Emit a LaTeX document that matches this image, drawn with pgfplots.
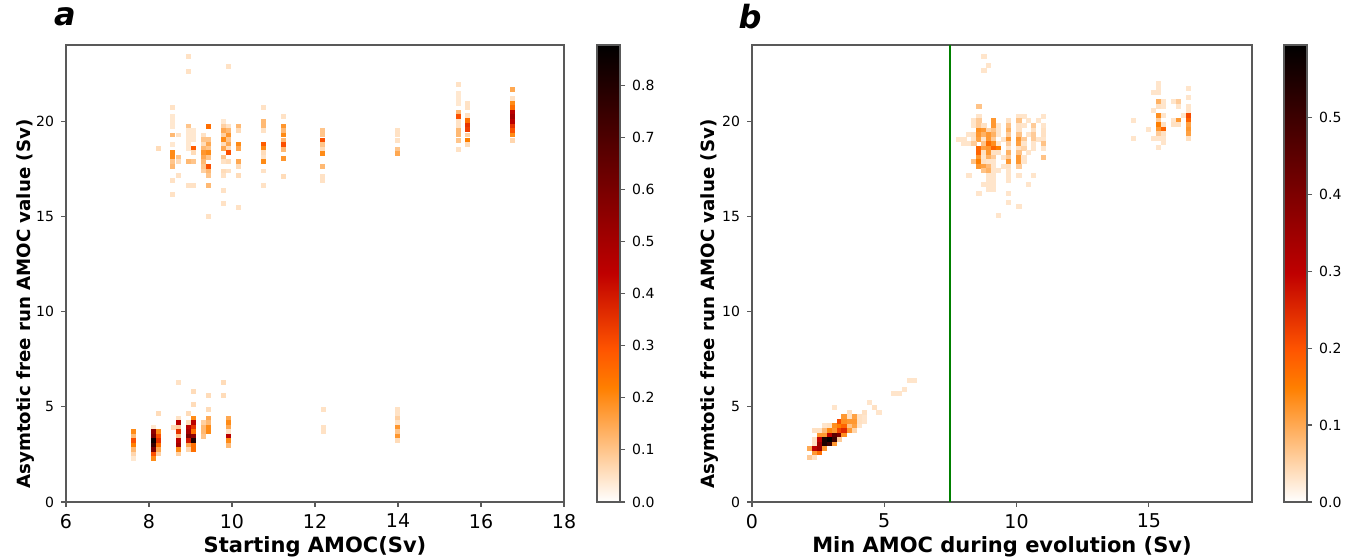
\documentclass[border=0pt]{standalone}
\usepackage{fontspec}
\setmainfont{DejaVu Sans}
\usepackage{pgfplots}
\pgfplotsset{compat=1.18}

% one histogram bin, drawn as a filled box
\pgfdeclareplotmark{cell}{%
  \pgfpathrectangle{\pgfqpoint{-1.3pt}{-1.22pt}}{\pgfqpoint{2.6pt}{2.44pt}}%
  \pgfusepath{fill}}

\pgfplotsset{
  colormap={heatr}{rgb(0cm)=(1,1,1); rgb(3cm)=(1,0.5,0); rgb(4cm)=(1,0.333,0); rgb(6cm)=(0.75,0,0); rgb(12cm)=(0,0,0)},
  /pgf/number format/assume math mode=true,
  panel/.style={
    scale only axis, height=228.5pt,
    ymin=0, ymax=24, ytick={0,5,10,15,20},
    tick align=outside, xtick pos=left, ytick pos=left,
    major tick length=2.5pt,
    axis line style={black!65, line width=0.6pt},
    tick style={black!65, line width=0.6pt},
    yticklabel style={font=\fontsize{7}{8}\selectfont},
    xticklabel style={font=\fontsize{9.5}{11}\selectfont},
    xlabel style={font=\fontsize{10.5}{12}\selectfont\bfseries},
    ylabel style={font=\fontsize{9.1}{11}\selectfont\bfseries},
    colormap name=heatr,
    colorbar,
  },
  cb/.style={
    scale only axis, width=11.5pt,
    at={(parent axis.north east)}, anchor=north west,
    axis line style={black!65, line width=0.6pt},
    tick style={black!65, line width=0.6pt},
    tick align=outside, major tick length=2.5pt,
    ytick pos=right, yticklabel pos=right,
    yticklabel style={font=\fontsize{7}{8}\selectfont,
      /pgf/number format/.cd, fixed, fixed zerofill, precision=1},
  },
  bins/.style={scatter, only marks, mark=cell, point meta=explicit,
    scatter/use mapped color={draw=none, fill=mapped color}},
}

\begin{document}
\begin{tikzpicture}
\path[use as bounding box] (0,0) rectangle (673.5pt,280pt);

% ---------------- (a) ----------------
\begin{axis}[panel,
  at={(33pt,29pt)}, anchor=south west, width=249pt,
  xmin=6, xmax=18, xtick={6,8,...,18},
  point meta min=0, point meta max=0.877,
  colorbar style={cb, xshift=8pt, ytick={0,0.1,...,0.8}},
  xlabel={Starting AMOC(Sv)},
  ylabel={Asymtotic free run AMOC value (Sv)},
  xlabel style={at={(axis description cs:0.5,-0.098)}, anchor=center},
  ylabel style={at={(axis description cs:-0.082,0.433)}, anchor=center},
]
\addplot[bins] table[meta=v] {
x y v
7.62 3.69 0.2
7.62 3.46 0.12
7.62 3.22 0.3
7.62 2.98 0.22
7.62 2.75 0.12
7.62 2.52 0.07
7.62 2.29 0.04
8.10 3.93 0.04
8.10 3.69 0.55
8.10 3.46 0.6
8.10 3.22 0.85
8.10 2.98 0.75
8.10 2.75 0.6
8.10 2.52 0.3
8.10 2.29 0.2
8.22 4.64 0.06
8.22 3.69 0.2
8.22 3.46 0.3
8.22 3.22 0.35
8.22 2.98 0.25
8.22 2.75 0.15
8.22 2.52 0.08
8.59 3.93 0.06
8.71 6.29 0.05
8.71 4.40 0.05
8.71 4.17 0.45
8.71 3.93 0.08
8.71 3.69 0.35
8.71 3.46 0.1
8.71 3.22 0.45
8.71 2.98 0.5
8.71 2.75 0.2
8.71 2.52 0.08
8.95 4.64 0.06
8.95 4.17 0.06
8.95 3.93 0.45
8.95 3.69 0.5
8.95 3.46 0.6
8.95 3.22 0.4
8.95 2.98 0.15
8.95 2.75 0.07
9.07 5.82 0.06
9.07 5.11 0.06
9.07 4.40 0.2
9.07 4.17 0.45
9.07 3.93 0.35
9.07 3.69 0.25
9.07 3.46 0.55
9.07 3.22 0.8
9.07 2.98 0.25
9.07 2.75 0.25
9.31 4.17 0.08
9.31 3.93 0.12
9.31 3.69 0.12
9.31 3.46 0.1
9.43 5.58 0.06
9.43 4.87 0.06
9.43 4.40 0.15
9.43 4.17 0.12
9.43 3.93 0.2
9.43 3.69 0.2
9.79 6.29 0.06
9.79 5.58 0.06
9.91 4.40 0.15
9.91 4.17 0.2
9.91 3.93 0.15
9.91 3.69 0.05
9.91 3.46 0.45
9.91 3.22 0.2
9.91 2.98 0.12
12.2 4.87 0.05
12.2 3.93 0.05
12.2 3.69 0.05
13.99 4.87 0.05
13.99 4.64 0.05
13.99 4.40 0.08
13.99 4.17 0.05
13.99 3.93 0.18
13.99 3.69 0.1
13.99 3.46 0.18
13.99 3.22 0.06
8.22 18.57 0.06
8.57 20.70 0.05
8.57 20.23 0.04
8.57 19.96 0.04
8.57 19.74 0.04
8.57 19.27 0.12
8.57 18.79 0.04
8.57 18.34 0.2
8.57 18.09 0.2
8.57 17.86 0.1
8.57 17.60 0.12
8.57 16.87 0.05
8.57 16.15 0.05
8.71 19.27 0.05
8.71 18.09 0.1
8.71 17.86 0.06
8.71 17.13 0.05
8.95 23.38 0.05
8.95 22.62 0.05
8.95 19.74 0.1
8.95 19.53 0.04
8.95 19.27 0.04
8.95 19.04 0.04
8.95 18.79 0.04
8.95 18.57 0.04
8.95 17.86 0.12
8.95 16.64 0.05
9.07 19.53 0.04
9.07 19.27 0.04
9.07 19.04 0.04
9.07 18.57 0.28
9.07 18.34 0.06
9.07 17.86 0.1
9.07 16.64 0.05
9.31 19.27 0.05
9.31 19.04 0.1
9.31 18.79 0.06
9.31 18.57 0.12
9.31 18.34 0.18
9.31 18.09 0.15
9.31 17.86 0.12
9.31 17.60 0.1
9.31 17.38 0.08
9.43 19.74 0.25
9.43 19.04 0.1
9.43 18.79 0.15
9.43 18.57 0.1
9.43 18.34 0.2
9.43 18.09 0.1
9.43 17.60 0.3
9.43 17.38 0.12
9.43 17.13 0.1
9.43 16.64 0.12
9.43 14.98 0.05
9.79 19.96 0.04
9.79 19.74 0.08
9.79 19.53 0.15
9.79 19.27 0.08
9.79 19.04 0.2
9.79 18.79 0.06
9.79 18.57 0.15
9.79 18.09 0.1
9.79 17.86 0.05
9.79 17.38 0.06
9.79 17.13 0.05
9.79 16.38 0.05
9.79 15.68 0.05
9.91 22.89 0.05
9.91 19.74 0.05
9.91 19.53 0.12
9.91 19.27 0.18
9.91 19.04 0.1
9.91 18.79 0.15
9.91 18.57 0.06
9.91 18.34 0.3
9.91 17.86 0.06
9.91 17.38 0.05
10.15 19.74 0.12
10.15 19.53 0.06
10.15 18.79 0.2
10.15 18.57 0.15
10.15 17.86 0.15
10.15 17.60 0.06
10.15 17.13 0.06
10.15 15.45 0.05
10.75 20.70 0.05
10.75 19.96 0.12
10.75 19.74 0.12
10.75 19.53 0.05
10.75 18.79 0.28
10.75 18.57 0.2
10.75 18.34 0.06
10.75 18.09 0.05
10.75 17.86 0.2
10.75 17.38 0.05
10.75 16.64 0.05
11.24 20.23 0.05
11.24 19.74 0.18
11.24 19.49 0.12
11.24 19.27 0.2
11.24 19.00 0.12
11.24 18.78 0.3
11.24 18.53 0.12
11.24 18.04 0.18
11.24 17.11 0.06
12.19 19.49 0.1
12.19 19.27 0.1
12.19 19.00 0.3
12.19 18.78 0.1
12.19 18.53 0.06
12.19 18.30 0.2
12.19 17.60 0.12
12.19 17.11 0.05
12.19 16.87 0.05
13.99 19.49 0.05
13.99 19.27 0.05
13.99 19.00 0.05
13.99 18.53 0.1
13.99 18.30 0.15
15.45 21.94 0.05
15.45 21.45 0.04
15.45 21.20 0.04
15.45 20.95 0.04
15.45 20.45 0.12
15.45 20.23 0.3
15.45 19.97 0.05
15.45 19.74 0.05
15.45 19.49 0.12
15.45 19.27 0.12
15.45 19.00 0.1
15.45 18.53 0.05
15.68 20.93 0.05
15.68 20.70 0.05
15.68 20.30 0.05
15.68 20.05 0.25
15.68 19.80 0.35
15.68 19.55 0.33
15.68 19.27 0.08
15.68 19.00 0.22
15.68 18.78 0.06
16.76 21.66 0.15
16.76 21.19 0.05
16.76 20.93 0.2
16.76 20.70 0.25
16.76 20.45 0.45
16.76 20.23 0.5
16.76 19.97 0.45
16.76 19.74 0.35
16.76 19.49 0.3
16.76 19.27 0.2
16.76 19.00 0.07
};
\end{axis}

% ---------------- (b) ----------------
\begin{axis}[panel,
  at={(376pt,29pt)}, anchor=south west, width=250pt,
  xmin=0, xmax=18.9, xtick={0,5,10,15},
  point meta min=0, point meta max=0.594,
  colorbar style={cb, xshift=7.5pt, ytick={0,0.1,...,0.5}},
  xlabel={Min AMOC during evolution (Sv)},
  ylabel={Asymtotic free run AMOC value (Sv)},
  xlabel style={at={(axis description cs:0.5,-0.098)}, anchor=center},
  ylabel style={at={(axis description cs:-0.084,0.433)}, anchor=center},
]
\draw[color={rgb,255:red,0;green,128;blue,0}, line width=1pt] (axis cs:7.5,0) -- (axis cs:7.5,24);
\addplot[bins] table[meta=v] {
x y v
2.16 2.35 0.06
2.35 2.35 0.035
2.35 2.59 0.12
2.54 2.59 0.17
2.16 2.82 0.1
2.35 2.82 0.3
2.54 2.82 0.35
2.73 2.82 0.12
2.35 3.06 0.035
2.54 3.06 0.35
2.73 3.06 0.55
2.92 3.06 0.5
3.11 3.06 0.12
2.35 3.29 0.035
2.54 3.29 0.3
2.73 3.29 0.55
2.92 3.29 0.59
3.11 3.29 0.5
3.30 3.29 0.06
2.54 3.53 0.12
2.73 3.53 0.12
2.92 3.53 0.3
3.11 3.53 0.45
3.30 3.53 0.4
3.48 3.53 0.13
2.35 3.76 0.035
2.54 3.76 0.035
2.73 3.76 0.08
2.92 3.76 0.14
3.11 3.76 0.12
3.30 3.76 0.22
3.48 3.76 0.25
3.67 3.76 0.12
3.86 3.76 0.05
2.73 4.01 0.03
2.92 4.01 0.035
3.11 4.01 0.13
3.30 4.01 0.15
3.48 4.01 0.18
3.67 4.01 0.07
3.86 4.01 0.11
4.05 4.01 0.03
3.30 4.24 0.21
3.48 4.24 0.13
3.67 4.24 0.12
3.86 4.24 0.12
4.05 4.24 0.035
4.24 4.24 0.03
3.48 4.48 0.12
3.67 4.48 0.035
3.86 4.48 0.11
4.05 4.48 0.035
4.24 4.48 0.03
3.67 4.71 0.035
4.24 4.71 0.035
4.80 4.71 0.03
3.11 4.95 0.03
4.62 4.95 0.035
4.43 5.21 0.03
5.37 5.70 0.03
5.56 5.70 0.03
5.75 5.92 0.03
5.94 6.40 0.03
6.13 6.40 0.03
8.77 23.41 0.03
8.95 22.94 0.03
8.77 22.68 0.03
8.58 20.75 0.07
8.58 20.26 0.03
10.09 20.26 0.03
10.28 20.26 0.03
11.03 20.26 0.03
8.39 20.02 0.03
8.58 20.02 0.06
9.14 20.02 0.12
9.71 20.02 0.035
10.09 20.02 0.07
10.46 20.02 0.03
10.84 20.02 0.03
8.39 19.77 0.03
8.58 19.77 0.06
8.77 19.77 0.035
9.14 19.77 0.12
9.33 19.77 0.03
9.71 19.77 0.07
10.09 19.77 0.035
10.28 19.77 0.03
10.65 19.77 0.06
11.03 19.77 0.03
8.58 19.53 0.13
8.77 19.53 0.12
8.95 19.53 0.05
9.14 19.53 0.07
9.33 19.53 0.03
9.71 19.53 0.09
10.09 19.53 0.035
10.65 19.53 0.035
11.03 19.53 0.035
8.20 19.30 0.03
8.39 19.30 0.035
8.58 19.30 0.12
8.77 19.30 0.09
8.95 19.30 0.12
9.14 19.30 0.09
9.33 19.30 0.03
9.71 19.30 0.06
10.09 19.30 0.07
10.46 19.30 0.03
10.65 19.30 0.06
11.03 19.30 0.035
7.82 19.05 0.03
8.01 19.05 0.03
8.39 19.05 0.03
8.58 19.05 0.11
8.77 19.05 0.03
8.95 19.05 0.12
9.14 19.05 0.06
9.52 19.05 0.03
9.71 19.05 0.12
10.09 19.05 0.12
10.28 19.05 0.06
10.65 19.05 0.06
10.84 19.05 0.03
11.03 19.05 0.03
8.01 18.81 0.03
8.20 18.81 0.03
8.39 18.81 0.06
8.77 18.81 0.07
8.95 18.81 0.17
9.14 18.81 0.13
9.33 18.81 0.03
9.71 18.81 0.06
10.09 18.81 0.11
10.28 18.81 0.03
10.65 18.81 0.03
11.03 18.81 0.07
8.58 18.58 0.18
8.77 18.58 0.11
8.95 18.58 0.12
9.14 18.58 0.18
9.33 18.58 0.15
9.71 18.58 0.03
10.09 18.58 0.035
10.28 18.58 0.05
10.65 18.58 0.03
11.03 18.58 0.03
8.58 18.34 0.18
8.77 18.34 0.035
8.95 18.34 0.12
9.14 18.34 0.035
9.33 18.34 0.035
9.71 18.34 0.09
10.09 18.34 0.07
10.46 18.34 0.03
8.58 18.11 0.12
8.77 18.11 0.03
8.95 18.11 0.09
9.14 18.11 0.06
9.52 18.11 0.03
9.71 18.11 0.06
10.09 18.11 0.12
10.28 18.11 0.03
11.03 18.11 0.07
8.39 17.86 0.07
8.58 17.86 0.15
8.77 17.86 0.035
8.95 17.86 0.03
9.14 17.86 0.03
9.71 17.86 0.12
10.09 17.86 0.12
10.28 17.86 0.03
8.58 17.62 0.12
8.77 17.62 0.11
8.95 17.62 0.08
9.14 17.62 0.03
9.52 17.62 0.03
9.71 17.62 0.035
10.09 17.62 0.06
8.77 17.39 0.07
8.95 17.39 0.09
9.14 17.39 0.03
9.33 17.39 0.03
9.71 17.39 0.03
8.20 17.15 0.03
8.95 17.15 0.03
9.14 17.15 0.03
9.71 17.15 0.03
10.09 17.15 0.03
10.65 17.15 0.03
8.95 16.90 0.03
9.14 16.90 0.03
9.71 16.90 0.03
8.77 16.68 0.03
8.95 16.68 0.03
9.14 16.68 0.03
10.46 16.68 0.03
8.95 16.43 0.03
9.14 16.43 0.03
8.58 16.20 0.03
9.71 16.20 0.03
9.71 15.73 0.03
10.09 15.50 0.03
9.33 15.03 0.03
15.36 21.98 0.03
15.36 21.71 0.03
15.36 21.49 0.03
15.36 21.01 0.09
15.36 20.79 0.035
15.36 20.31 0.13
15.36 20.05 0.06
15.36 19.83 0.15
15.36 19.58 0.12
15.36 19.35 0.06
15.36 19.09 0.03
15.36 18.62 0.03
15.17 21.49 0.03
15.17 20.54 0.03
15.17 19.09 0.03
15.55 21.01 0.03
15.55 20.79 0.03
15.55 20.31 0.03
15.55 19.83 0.035
15.55 19.58 0.18
15.55 19.35 0.035
15.55 19.09 0.03
15.55 18.86 0.03
14.98 19.58 0.03
14.42 20.05 0.03
14.42 19.09 0.03
15.92 21.01 0.03
15.92 20.05 0.03
15.92 19.83 0.035
16.11 21.01 0.06
16.11 20.79 0.03
16.11 20.05 0.12
16.11 19.83 0.035
16.30 20.31 0.03
16.49 21.71 0.03
16.49 21.24 0.03
16.49 20.79 0.03
16.49 20.54 0.03
16.49 20.31 0.21
16.49 20.05 0.18
16.49 19.83 0.11
16.49 19.58 0.12
16.49 19.35 0.11
16.49 19.09 0.035
};
\end{axis}

\node[font=\fontsize{16}{18}\selectfont\bfseries\itshape] at (32.5pt,271.5pt) {a};
\node[font=\fontsize{16}{18}\selectfont\bfseries\itshape] at (375pt,271.5pt) {b};
\end{tikzpicture}
\end{document}
